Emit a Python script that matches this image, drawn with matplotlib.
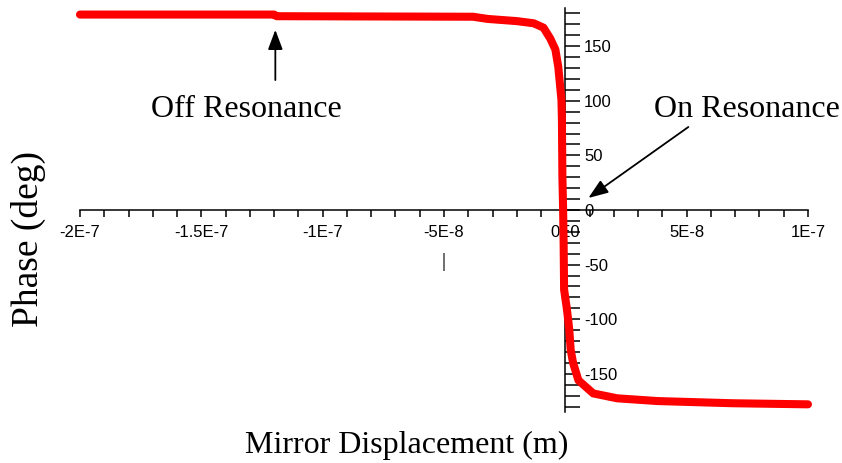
import numpy as np
import matplotlib.pyplot as plt
from matplotlib.ticker import FixedLocator, MultipleLocator, NullFormatter

# phase of the reflected field vs mirror displacement
displacement = [-2.0e-7, -1.2e-7, -1.19e-7, -3.8e-8, -3.2e-8, -2.0e-8, -1.3e-8,
                -9.0e-9, -6.2e-9, -4.1e-9, -2.9e-9, -1.6e-9, -1.4e-9, -1.2e-9,
                -0.9e-9, -0.7e-9, -0.5e-9, 0.6e-9, 1.2e-9, 1.65e-9, 2.2e-9,
                3.2e-9, 5.4e-9, 1.15e-8, 2.14e-8, 3.8e-8, 6.9e-8, 1.0e-7]
phase = [179, 179, 177.5, 177, 175, 173, 171,
         167, 157, 147, 131, 101, 83, 30,
         0, -30, -73, -90, -101, -110, -128,
         -140, -156, -168, -172.5, -175, -177, -178]

xtick_vals = [-2e-7, -1.5e-7, -1e-7, -5e-8, 0, 5e-8, 1e-7]
xtick_labels = ['-2E-7', '-1.5E-7', '-1E-7', '-5E-8', '0E0', '5E-8', '1E-7']
ytick_vals = [-150, -100, -50, 0, 50, 100, 150]

serif = 'Liberation Serif'
sans = 'Liberation Sans'

fig = plt.figure(figsize=(8.42, 4.63), dpi=100)
ax = fig.add_axes([0.0950, 0.1102, 0.8646, 0.8725])

ax.plot(displacement, phase, color='#ff0000', lw=5.8, solid_capstyle='round',
        solid_joinstyle='round', clip_on=False, zorder=3)

ax.set_xlim(-2e-7, 1e-7)
ax.set_ylim(-185, 185)

# axes cross at the origin
ax.spines['left'].set_visible(False)
ax.spines['top'].set_visible(False)
ax.spines['right'].set_position(('data', 0))
ax.spines['bottom'].set_position(('data', 0))
for s in ('right', 'bottom'):
    ax.spines[s].set_linewidth(1.1)

ax.yaxis.tick_right()
ax.xaxis.set_major_locator(FixedLocator(xtick_vals))
ax.xaxis.set_minor_locator(MultipleLocator(1e-8))
ax.set_xticklabels(xtick_labels, fontfamily=sans, fontsize=12)
ax.yaxis.set_major_locator(FixedLocator(ytick_vals))
ax.yaxis.set_minor_locator(MultipleLocator(10))
ax.set_yticklabels([str(v) for v in ytick_vals], fontfamily=sans, fontsize=12)
ax.xaxis.set_minor_formatter(NullFormatter())

ax.tick_params(axis='x', which='both', direction='out', length=5, width=1.1, pad=6)
ax.tick_params(axis='y', which='both', direction='out', length=11, width=1.1, pad=2.5)

ax.text(-5e-8, -48, '|', fontsize=13, color='#444444', ha='center', va='center')

# annotations
arrow = dict(arrowstyle='-|>,head_length=1.2,head_width=0.45', color='black',
             lw=1.3, shrinkA=0, shrinkB=0)
ax.annotate('', xy=(-1.195e-7, 165), xytext=(-1.195e-7, 119), arrowprops=arrow)
ax.text(-1.314e-7, 85, 'Off Resonance', fontfamily=serif, fontsize=23,
        ha='center', va='baseline')
ax.annotate('', xy=(0.95e-8, 11), xytext=(5.07e-8, 76), arrowprops=arrow)
ax.text(7.5e-8, 85, 'On Resonance', fontfamily=serif, fontsize=23,
        ha='center', va='baseline')

fig.text(0.4835, 0.022, 'Mirror Displacement (m)', fontfamily=serif, fontsize=23,
         ha='center', va='baseline')
fig.text(0.0333, 0.4838, 'Phase (deg)', fontfamily=serif, fontsize=27,
         rotation=90, ha='center', va='center')

fig.savefig('out.png', dpi=100)
